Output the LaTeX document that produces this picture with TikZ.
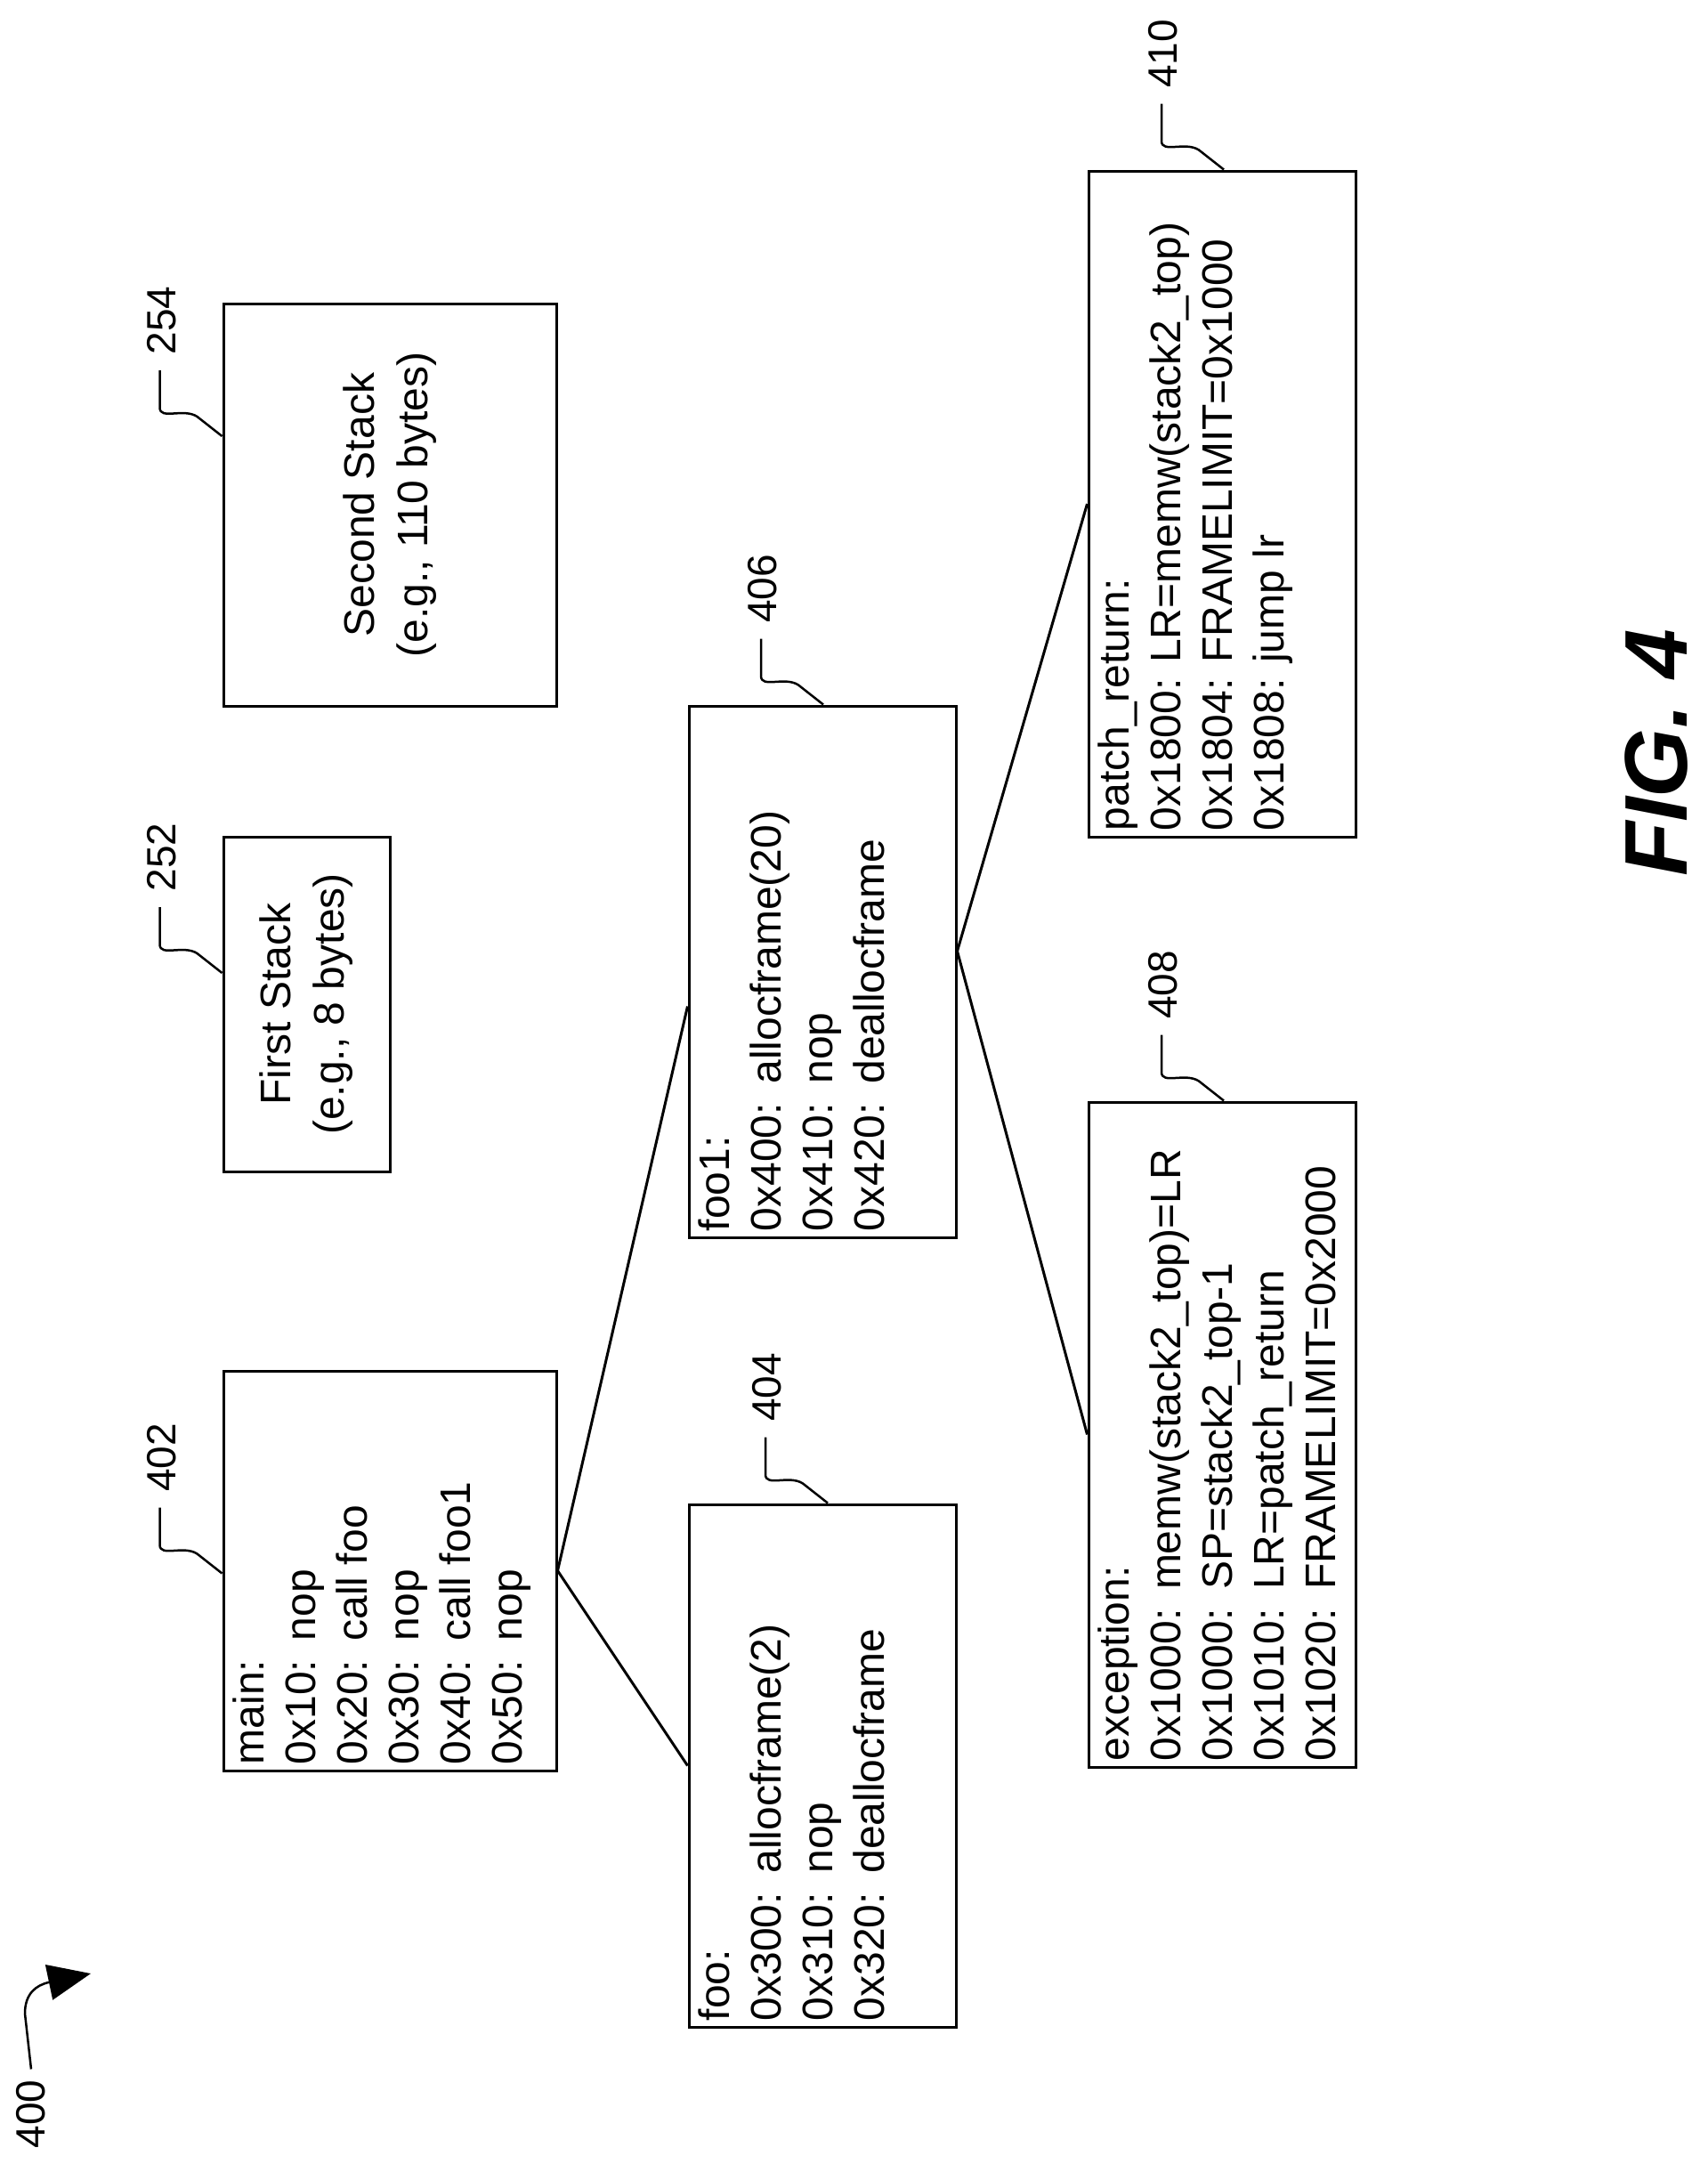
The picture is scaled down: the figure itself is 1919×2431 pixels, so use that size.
\documentclass[tikz,border=0pt]{standalone}
\usepackage{fontspec}
\setmainfont{Liberation Sans}
\usetikzlibrary{positioning,calc,arrows.meta}

\tikzset{
  box/.style={draw, line width=3pt, rectangle, inner sep=0pt},
  code/.style={rotate=90, anchor=north west, align=left, inner sep=0pt,
    font=\fontsize{48}{58}\selectfont},
  stack/.style={rotate=90, align=center, inner sep=0pt,
    font=\fontsize{48}{60}\selectfont},
  reflbl/.style={rotate=90, inner sep=0pt, font=\fontsize{46}{50}\selectfont},
  leader/.style={line width=2.5pt},
  link/.style={line width=3pt}
}
\newcommand{\gp}{\hspace{0.45em}}

\begin{document}
\begin{tikzpicture}[x=1pt,y=-1pt]
  \useasboundingbox (0,0) rectangle (1919,2431);

  % boxes
  \node[box, minimum width=187pt, minimum height=376pt] (first) at (344.5,1128) {};
  \node[box, minimum width=374pt, minimum height=452pt] (second) at (438,567) {};
  \node[box, minimum width=374pt, minimum height=449pt] (main) at (438,1764.5) {};
  \node[box, minimum width=300pt, minimum height=587pt] (foo) at (924,1983.5) {};
  \node[box, minimum width=300pt, minimum height=597pt] (foo1) at (924,1091.5) {};
  \node[box, minimum width=300pt, minimum height=747pt] (exc) at (1373,1611.5) {};
  \node[box, minimum width=300pt, minimum height=748pt] (patch) at (1373,566) {};

  % texts
  \node[stack] (firstT) at (first) {First Stack\\(e.g., 8 bytes)};
  \node[stack] (secondT) at (second) {Second Stack\\(e.g., 110 bytes)};
  \node[code] (mainT) at ([shift={(12,-8)}]main.south west)
    {main:\\0x10:\gp nop\\0x20:\gp call foo\\0x30:\gp nop\\0x40:\gp call foo1\\0x50:\gp nop};
  \node[code] (fooT) at ([shift={(12,-8)}]foo.south west)
    {foo:\\0x300:\gp allocframe(2)\\0x310:\gp nop\\0x320:\gp deallocframe};
  \node[code] (foo1T) at ([shift={(12,-8)}]foo1.south west)
    {foo1:\\0x400:\gp allocframe(20)\\0x410:\gp nop\\0x420:\gp deallocframe};
  \node[code] (excT) at ([shift={(12,-8)}]exc.south west)
    {exception:\\0x1000:\gp memw(stack2\_top)=LR\\0x1000:\gp SP=stack2\_top-1\\0x1010:\gp LR=patch\_return\\0x1020:\gp FRAMELIMIT=0x2000};
  \node[code] (patchT) at ([shift={(12,-8)}]patch.south west)
    {patch\_return:\\0x1800: LR=memw(stack2\_top)\\0x1804: FRAMELIMIT=0x1000\\0x1808: jump lr};

  % connectors
  \draw[link] (main.east) -- ([yshift=-39pt]foo1.west);
  \draw[link] (main.east) -- (foo.west);
  \draw[link] ([yshift=23pt]foo1.east) -- (patch.west);
  \draw[link] ([yshift=23pt]foo1.east) -- (exc.west);

  % reference numerals
  \coordinate (e252) at ([yshift=35pt]first.west);
  \coordinate (e254) at ([yshift=77pt]second.west);
  \coordinate (e402) at ([yshift=-3pt]main.west);
  \coordinate (e404) at ([xshift=6pt]foo.north);
  \coordinate (e406) at ([xshift=1pt]foo1.north);
  \coordinate (e408) at ([xshift=2pt]exc.north);
  \coordinate (e410) at ([xshift=2pt]patch.north);
  \foreach \n in {252,254,402,404,406,408,410}{
    \node[reflbl] (l\n) at ([shift={(-68,-130)}]e\n) {\n};
    \draw[leader] (e\n) -- ++(-28,-22) .. controls +(-15,-10) and +(0,14) .. ++(-42,-10) -- ++(0,-42);
  }

  % figure numeral
  \node[reflbl] (l400) at (35,2375) {400};
  \coordinate (a400) at (102,2217);
  \draw[leader, -{Triangle[length=48pt,width=40pt]}] ([yshift=12pt]l400.east) -- (28,2262) .. controls (28,2240) and (40,2230) .. (a400);

  \node[rotate=90, inner sep=0pt, font=\fontsize{100}{110}\selectfont\bfseries\itshape] (fig) at (1861,846) {FIG. 4};
\end{tikzpicture}
\end{document}
